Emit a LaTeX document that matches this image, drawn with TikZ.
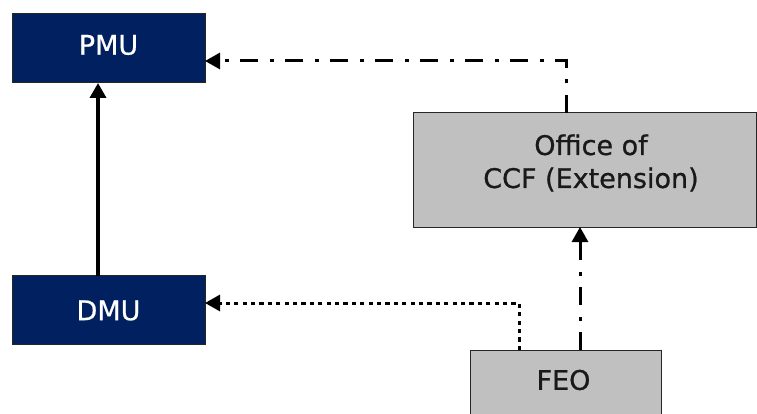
\documentclass[tikz,border=0pt]{standalone}
\usepackage{fontspec}
\setmainfont{DejaVu Sans}
\newfontfamily\boxlabelfont[FakeBold=0.8]{DejaVu Sans}
\usetikzlibrary{arrows.meta}
\definecolor{navy}{HTML}{002060}
\definecolor{boxgray}{HTML}{C0C0C0}
\begin{document}
\begin{tikzpicture}[x=1pt,y=-1pt,
  unitbox/.style={draw=black!85, line width=1pt, inner sep=0pt, outer sep=0pt,
    minimum width=193pt, minimum height=69pt},
  mgmt/.style={unitbox, fill=navy},
  field/.style={unitbox, fill=boxgray},
  lbl/.style={inner sep=0pt, font=\boxlabelfont\fontsize{27}{33}\selectfont, align=center},
  tip/.style={-{Triangle[length=15pt,width=16pt]}},
  report/.style={tip, line width=3.5pt},
  dashdot/.style={tip, line width=3pt, dash pattern=on 18pt off 11.5pt on 4pt off 11.5pt},
  dotline/.style={tip, line width=3pt, dash pattern=on 4.2pt off 4.2pt}]
\useasboundingbox (0,0) rectangle (757,414);
\clip (0,0) rectangle (757,414);

% boxes
\node[mgmt] (pmu) at (108.5,48.5) {};
\node[mgmt] (dmu) at (108.5,310) {};
\node[field, minimum width=343pt, minimum height=114pt] (office) at (584.5,170) {};
\node[field, minimum width=191pt, minimum height=70pt] (feo) at (565.5,385) {};

% labels
\node[lbl, text=white] (pmutext) at (108.5,45) {PMU};
\node[lbl, text=white] (dmutext) at (108.5,310.5) {DMU};
\node[lbl, text=black!90] (officetext) at (591,163) {Office of\\CCF (Extension)};
\node[lbl, text=black!90] (feotext) at (563.5,380) {FEO};

% reporting lines
\draw[report] ([xshift=-10.5pt]dmu.north) -- ([xshift=-10.5pt]pmu.south);
\draw[dashdot] ([xshift=-18.5pt]office.north) |- ([yshift=-12.5pt]pmu.east);
\draw[dashdot] ([xshift=14.5pt]feo.north) -- ([xshift=-4.5pt]office.south);
\draw[dotline] ([xshift=-46.5pt]feo.north) |- ([yshift=7pt]dmu.east);
\end{tikzpicture}
\end{document}
